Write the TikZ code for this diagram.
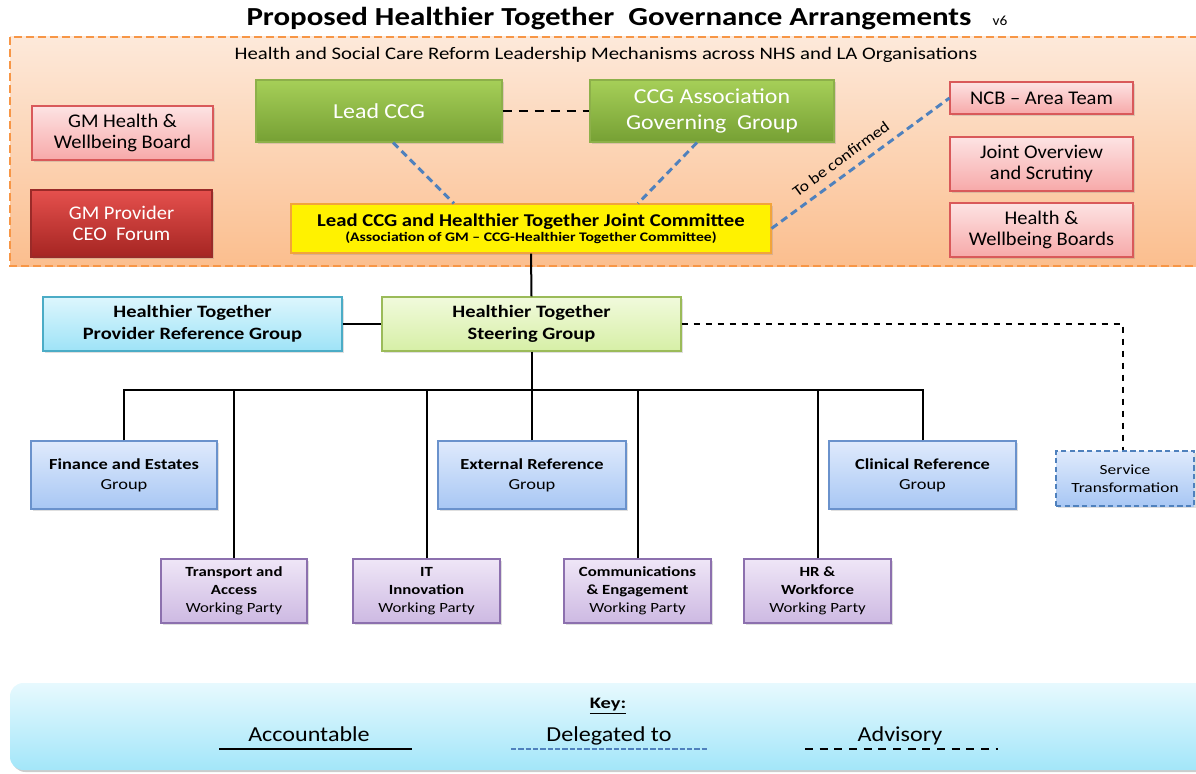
\documentclass[tikz,border=0pt]{standalone}
\usepackage{fontspec}
\setmainfont{Carlito}
\usetikzlibrary{calc,shadows}
\newcommand\fsx[3]{\addfontfeature{FakeStretch=#1}\fontsize{#2}{#3}\selectfont}
\definecolor{orangeln}{HTML}{F79646}
\definecolor{orangetop}{HTML}{FDE9DA}
\definecolor{orangebot}{HTML}{FBBE8E}
\definecolor{pinktop}{HTML}{FDE3E3}
\definecolor{pinkbot}{HTML}{F7A9A9}
\definecolor{pinkln}{HTML}{D9595A}
\definecolor{redtop}{HTML}{E5504D}
\definecolor{redbot}{HTML}{A52522}
\definecolor{redln}{HTML}{9A2A28}
\definecolor{greentop}{HTML}{A6CF58}
\definecolor{greenbot}{HTML}{76A034}
\definecolor{greenln}{HTML}{8DB04A}
\definecolor{yellowln}{HTML}{F2A43A}
\definecolor{cyantop}{HTML}{DDF6FD}
\definecolor{cyanbot}{HTML}{9EE3F7}
\definecolor{cyanln}{HTML}{4BACC6}
\definecolor{lgtop}{HTML}{F1FADC}
\definecolor{lgbot}{HTML}{D6EFA6}
\definecolor{lgln}{HTML}{9BBB59}
\definecolor{bluetop}{HTML}{DFEAFC}
\definecolor{bluebot}{HTML}{A8C7F4}
\definecolor{blueln}{HTML}{6A92CC}
\definecolor{purtop}{HTML}{EFE6F7}
\definecolor{purbot}{HTML}{CDB9E2}
\definecolor{purln}{HTML}{8C70AE}
\definecolor{delblue}{HTML}{4F81BD}
\definecolor{keytop}{HTML}{E7F9FE}
\definecolor{keybot}{HTML}{A3E6F9}
\begin{document}
\begin{tikzpicture}[x=0.75pt,y=-0.75pt,
  box/.style={draw, rectangle, align=center, inner sep=1pt, line width=0.8pt,
    drop shadow={opacity=0.25,shadow xshift=1.2pt,shadow yshift=-1.2pt}},
  pinkbox/.style={box, draw=pinkln, top color=pinktop, bottom color=pinkbot,
    font=\fsx{1.06}{14.5}{16}},
  redbox/.style={box, draw=redln, top color=redtop, bottom color=redbot, text=white,
    font=\fsx{1.06}{14.5}{16}},
  greenbox/.style={box, draw=greenln, top color=greentop, bottom color=greenbot, text=white,
    font=\fsx{1.12}{16}{19.5}},
  yellowbox/.style={box, draw=yellowln, fill=yellow},
  cyanbox/.style={box, draw=cyanln, top color=cyantop, bottom color=cyanbot,
    font=\bfseries\fsx{1.18}{13}{16.5}},
  lgbox/.style={box, draw=lgln, top color=lgtop, bottom color=lgbot,
    font=\bfseries\fsx{1.18}{13}{16.5}},
  bluebox/.style={box, draw=blueln, top color=bluetop, bottom color=bluebot,
    font=\fsx{1.2}{11.5}{15}},
  purbox/.style={box, draw=purln, top color=purtop, bottom color=purbot,
    font=\fsx{1.2}{10.5}{13.5}},
  keytext/.style={font=\fsx{1.13}{16}{18}, anchor=base},
  accline/.style={line width=1.5pt, black},
  delline/.style={line width=2.2pt, delblue, dash pattern=on 5.5pt off 3.5pt},
  advline/.style={line width=1.4pt, black, dash pattern=on 5pt off 4pt}
]
\useasboundingbox (0,0) rectangle (1196,774);
\begin{scope}
\clip (0,0) rectangle (1196,774);
% orange region
\path[top color=orangetop, bottom color=orangebot] (10,37) rectangle (1215,266);
\draw[orangeln, line width=1.5pt, dash pattern=on 6pt off 3pt] (10,37) rectangle (1215,266);
% key region
\path[fill=black!20, rounded corners=10pt] (12,685) rectangle (1224,772);
\path[top color=keytop, bottom color=keybot, rounded corners=10pt] (10,683) rectangle (1222,770);
\end{scope}

% title
\node[font=\bfseries\fsx{1.19}{19.5}{22}] (title) at (609,19) {Proposed Healthier Together\ \ Governance Arrangements};
\node[font=\fsx{1.1}{10.5}{12}, anchor=west] (ver) at (988,21) {v6};
\node[font=\fsx{1.18}{13.2}{15}] (sub) at (606,55) {Health and Social Care Reform Leadership Mechanisms across NHS and LA Organisations};

% top boxes
\node[pinkbox, minimum width=135.75pt, minimum height=40.5pt] (gmhwb) at (122.5,133) {GM Health \&\\Wellbeing Board};
\node[redbox, minimum width=135.75pt, minimum height=50.25pt] (gmceo) at (121.5,223.5) {GM Provider\\CEO\ \ Forum};
\node[greenbox, minimum width=184.5pt, minimum height=46.5pt] (leadccg) at (379,111) {Lead CCG};
\node[greenbox, minimum width=183pt, minimum height=46.5pt] (ccgassoc) at (712,111) {CCG Association\\Governing\ \ Group};
\node[pinkbox, minimum width=137.25pt, minimum height=24pt] (ncb) at (1041.5,98) {NCB -- Area Team};
\node[pinkbox, minimum width=137.25pt, minimum height=40.5pt] (jos) at (1041.5,164) {Joint Overview\\and Scrutiny};
\node[pinkbox, minimum width=137.25pt, minimum height=40.5pt] (hwb) at (1041.5,230) {Health \&\\Wellbeing Boards};
\node[yellowbox, minimum width=360pt, minimum height=36.75pt] (joint) at (531,228.5)
  {{\bfseries\fsx{1.15}{13.5}{15}Lead CCG and Healthier Together Joint Committee}\\[-1pt]
   {\bfseries\fsx{1.2}{9.8}{11}(Association of GM -- CCG-Healthier Together Committee)}};

% middle
\node[cyanbox, minimum width=224.25pt, minimum height=40.5pt] (provider) at (192.5,324) {Healthier Together\\Provider Reference Group};
\node[lgbox, minimum width=224.25pt, minimum height=40.5pt] (steering) at (531.5,324) {Healthier Together\\Steering Group};
\node[box, draw=delblue, dash pattern=on 4pt off 2.5pt, line width=1.2pt, top color=bluetop, bottom color=bluebot,
  font=\fsx{1.24}{10.5}{13.5}, minimum width=103.5pt, minimum height=41.25pt] (service) at (1125,478.5) {Service\\Transformation};

% groups
\node[bluebox, minimum width=139.5pt, minimum height=51pt] (finance) at (124,475) {\textbf{Finance and Estates}\\Group};
\node[bluebox, minimum width=141pt, minimum height=51pt] (external) at (532,475) {\textbf{External Reference}\\Group};
\node[bluebox, minimum width=140.25pt, minimum height=51pt] (clinical) at (922.5,475) {\textbf{Clinical Reference}\\Group};
\node[purbox, minimum width=109.5pt, minimum height=48pt] (transport) at (234,591) {\textbf{Transport and}\\\textbf{Access}\\Working Party};
\node[purbox, minimum width=110.25pt, minimum height=48pt] (it) at (426.5,591) {\textbf{IT}\\\textbf{Innovation}\\Working Party};
\node[purbox, minimum width=110.25pt, minimum height=48pt] (comms) at (637.5,591) {\textbf{Communications}\\\textbf{\& Engagement}\\Working Party};
\node[purbox, minimum width=110.25pt, minimum height=48pt] (hr) at (817.5,591) {\textbf{HR \&}\\\textbf{Workforce}\\Working Party};

% connectors
\draw[advline, line width=1.8pt, dash pattern=on 7pt off 5pt] (leadccg.east) -- (ccgassoc.west);
\draw[delline] ([xshift=10.5pt]leadccg.south) -- ([xshift=-57.75pt]joint.north);
\draw[delline] ([xshift=-11.25pt]ccgassoc.south) -- ([xshift=80.25pt]joint.north);
\draw[delline] (joint.east) -- node[pos=0.44, sloped, above=3pt, font=\fsx{1.15}{11.5}{12}, text=black] {To be confirmed} (ncb.west);
\draw[accline] (joint.south) -- (steering.north);
\draw[accline] (provider.east) -- (steering.west);
\draw[advline] (steering.east) -| ([xshift=-1.5pt]service.north);
\coordinate (bus) at (531.5,390);
\draw[accline] (steering.south) -- (bus);
\foreach \n in {finance,transport,it,external,comms,hr,clinical}
  \draw[accline] (\n.north) |- (bus);

% key
\node[font=\bfseries\fsx{1.28}{12}{14}] (keyt) at (608,706) {\underline{Key:}};
\node[keytext] (acc) at (309,741) {Accountable};
\node[keytext] (dele) at (609,741) {Delegated to};
\node[keytext] (adv) at (900,741) {Advisory};
\coordinate (a1) at (219,749); \coordinate (a2) at (412,749);
\coordinate (d1) at (511,749); \coordinate (d2) at (708,749);
\coordinate (v1) at (805,749); \coordinate (v2) at (998,749);
\draw[accline] (a1) -- (a2);
\draw[delline, dash pattern=on 4pt off 1.5pt] (d1) -- (d2);
\draw[advline, dash pattern=on 6pt off 5pt] (v1) -- (v2);
\end{tikzpicture}
\end{document}
